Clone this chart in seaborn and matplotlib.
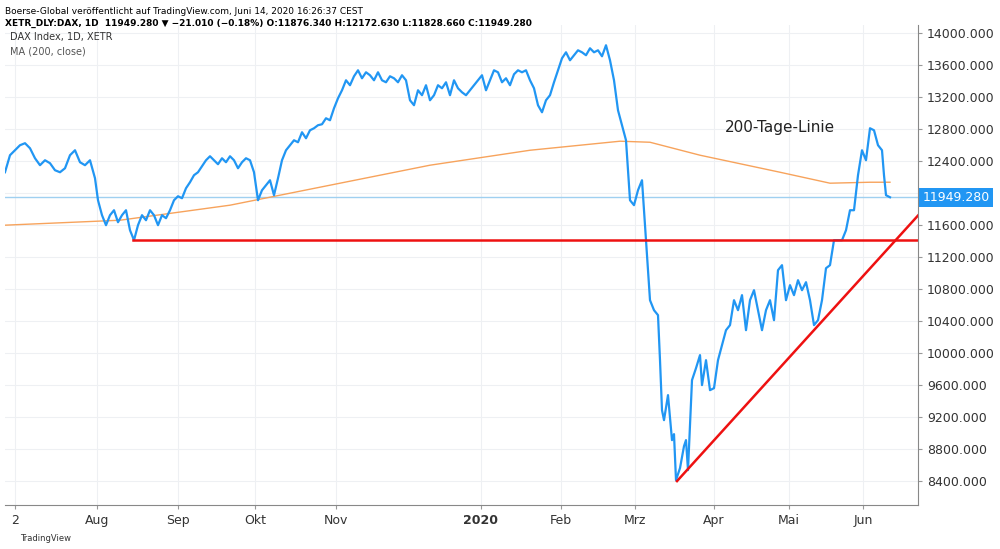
import matplotlib
matplotlib.use("Agg")
import matplotlib.pyplot as plt
import seaborn as sns
import pandas as pd

t = [5,10,15,20,25,30,35,40,45,50,55,60,65,70,75,80,85,90,95,98,102,106,110,114,118,122,126,130,134,138,142,146,150,154,158,162,166,170,174,178,182,186,190,194,198,202,206,210,214,218,222,226,230,234,238,242,246,250,254,258,262,266,270,274,278,282,286,290,294,298,302,306,310,314,318,322,326,330,334,338,342,346,350,354,358,362,366,370,374,378,382,386,390,394,398,402,406,410,414,418,422,426,430,434,438,442,446,450,454,458,462,466,470,474,478,482,486,490,494,498,502,506,510,514,518,522,526,530,534,538,542,546,550,554,558,562,566,570,574,578,582,586,590,594,598,602,606,610,614,618,622,626,630,634,638,642,646,650,654,658,660,662,664,668,672,674,676,680,684,686,688,692,696,700,702,706,710,714,718,722,726,730,734,738,742,746,750,754,758,762,766,770,774,778,782,786,790,794,798,802,806,810,814,818,822,826,830,834,838,842,846,850,854,858,862,866,870,874,878,882,884,886,890]
close = [12262,12475,12537,12600,12625,12562,12437,12350,12412,12375,12287,12262,12312,12475,12537,12387,12350,12412,12187,11912,11725,11600,11725,11787,11637,11725,11787,11537,11412,11600,11725,11662,11787,11725,11600,11725,11687,11787,11912,11962,11937,12062,12137,12225,12262,12337,12412,12462,12412,12362,12437,12387,12462,12412,12312,12387,12437,12412,12262,11912,12037,12100,12162,11975,12187,12412,12537,12600,12662,12637,12762,12687,12787,12812,12850,12862,12937,12912,13062,13187,13287,13412,13350,13462,13537,13437,13512,13475,13412,13512,13412,13387,13462,13437,13387,13475,13412,13162,13100,13287,13225,13350,13162,13225,13350,13312,13387,13225,13412,13312,13262,13225,13287,13350,13412,13475,13287,13412,13537,13512,13387,13437,13350,13487,13537,13512,13537,13412,13312,13100,13012,13162,13225,13387,13537,13687,13762,13662,13725,13787,13762,13725,13812,13762,13787,13712,13850,13662,13412,13037,12850,12662,11912,11850,12037,12162,11412,10662,10537,10475,9912,9287,9162,9475,8912,8987,8412,8562,8837,8912,8537,9662,9812,9975,9600,9912,9537,9562,9912,10100,10287,10350,10662,10537,10725,10287,10662,10787,10537,10287,10537,10662,10412,11037,11100,10662,10850,10725,10912,10787,10887,10662,10350,10412,10662,11062,11100,11412,11412,11412,11537,11787,11787,12225,12537,12412,12812,12787,12600,12537,12225,11975,11949]
ma_t = [5,120,230,330,430,530,620,650,700,780,830,870,890]
ma_v = [11600,11662,11850,12100,12350,12537,12650,12637,12475,12262,12125,12137,12137]
support_t = [133,918]
support_v = [11412,11412]
trend_t = [677,921]
trend_v = [8400,11762]
last_price = 11949.28
y_ticks = [8400,8800,9200,9600,10000,10400,10800,11200,11600,12400,12800,13200,13600,14000]
month_labels = ["2","Aug","Sep","Okt","Nov","2020","Feb","Mrz","Apr","Mai","Jun"]
month_pos = [15,97,178,255,336,481,561,635,714,789,863]

df = pd.DataFrame({"t": t, "close": close})
ma = pd.DataFrame({"t": ma_t, "v": ma_v})

fig = plt.figure(figsize=(10, 5.49), dpi=100)
ax = fig.add_axes([0.005, 0.080, 0.913, 0.874])
ax.set_yticks(list(range(8400, 14001, 400)), minor=True)
ax.grid(True, which="both", color="#eef0f3", lw=0.8)
ax.set_axisbelow(True)
ax.axhline(last_price, color="#9fd0f0", lw=1)
sns.lineplot(data=ma, x="t", y="v", ax=ax, color="#f7a35c", lw=1)
sns.lineplot(data=df, x="t", y="close", ax=ax, color="#2196f3", lw=1.6)
ax.plot(support_t, support_v, color="#ee1111", lw=1.8)
ax.plot(trend_t, trend_v, color="#ee1111", lw=1.8)
ax.set_xlim(5, 918)
ax.set_ylim(8100, 14100)
ax.yaxis.tick_right()
ax.set_yticks(y_ticks)
ax.set_yticklabels([f"{v:.3f}" for v in y_ticks], fontsize=9, color="#333333")
ax.tick_params(axis="y", which="minor", length=0)
ax.set_xticks(month_pos)
ax.set_xticklabels(month_labels, fontsize=9, color="#333333")
for lab in ax.get_xticklabels():
    if lab.get_text() == "2020":
        lab.set_fontweight("bold")
ax.tick_params(length=3, color="#999999")
ax.set_xlabel(""); ax.set_ylabel("")
for s in ["top", "left"]:
    ax.spines[s].set_visible(False)
for s in ["right", "bottom"]:
    ax.spines[s].set_color("#888888")
ax.text(725, 12770, "200-Tage-Linie", fontsize=11, color="#222222")
ax.text(1.005, last_price, "11949.280", transform=ax.get_yaxis_transform(),
        va="center", ha="left", fontsize=9, color="white",
        bbox=dict(boxstyle="square,pad=0.25", fc="#2196f3", ec="none"))
ax.text(0.005, 0.985, "DAX Index, 1D, XETR", transform=ax.transAxes, fontsize=7, color="#333333", va="top")
ax.text(0.005, 0.955, "MA (200, close)", transform=ax.transAxes, fontsize=7, color="#555555", va="top")
fig.text(0.005, 0.988, "Boerse-Global veröffentlicht auf TradingView.com, Juni 14, 2020 16:26:37 CEST", fontsize=6.5, va="top")
fig.text(0.005, 0.966, "XETR_DLY:DAX, 1D  11949.280 ▼ −21.010 (−0.18%) O:11876.340 H:12172.630 L:11828.660 C:11949.280", fontsize=6.5, va="top", fontweight="bold")
fig.text(0.02, 0.015, "TradingView", fontsize=6, color="#333333")
fig.savefig("out.png", dpi=100)
